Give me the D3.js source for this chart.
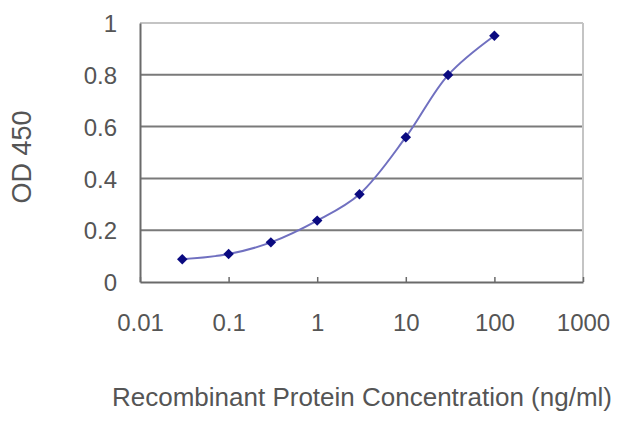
<!DOCTYPE html>
<html lang="en">
<head>
  <meta charset="UTF-8">
  <title>OD 450 vs Recombinant Protein Concentration</title>
  <script src="https://d3js.org/d3.v7.min.js"></script>
  <style>
    html, body { margin: 0; background: #fff; }
    .lbl { font-family: "Liberation Sans", Arial, sans-serif; fill: #555; }
  </style>
</head>
<body>
  <svg width="640" height="427"></svg>
  <script>
    // data
    const conc = [0.03, 0.1, 0.3, 1, 3, 10, 30, 100];
    const od = [0.088, 0.108, 0.153, 0.237, 0.339, 0.559, 0.799, 0.951];
    const xTicks = [0.01, 0.1, 1, 10, 100, 1000];
    const xTickLabels = ["0.01", "0.1", "1", "10", "100", "1000"];
    const yTicks = [0, 0.2, 0.4, 0.6, 0.8, 1];
    const yTickLabels = ["0", "0.2", "0.4", "0.6", "0.8", "1"];

    const plotL = 140, plotR = 583, plotT = 23, plotB = 282;

    const svg = d3.select("svg");

    const x = d3.scaleLog().domain([0.01, 1000]).range([plotL, plotR]);
    const y = d3.scaleLinear().domain([0, 1]).range([plotB, plotT]);

    // gridlines
    svg.append("g")
      .selectAll("line")
      .data(yTicks.slice(1))
      .enter().append("line")
      .attr("x1", plotL).attr("x2", plotR)
      .attr("y1", d => y(d)).attr("y2", d => y(d))
      .attr("stroke", d => d === 1 ? "#c4c4c4" : "#7a7a7a")
      .attr("stroke-width", 2);

    // right border (light)
    svg.append("line")
      .attr("x1", plotR).attr("x2", plotR)
      .attr("y1", plotT).attr("y2", plotB)
      .attr("stroke", "#c4c4c4").attr("stroke-width", 2);

    // x axis, ticks pointing up
    const xAxis = svg.append("g")
      .attr("transform", `translate(0, ${plotB})`)
      .call(d3.axisBottom(x).tickValues(xTicks).tickSizeInner(-5).tickSizeOuter(0).tickFormat((d, i) => xTickLabels[i]));
    xAxis.select(".domain").attr("stroke", "#6a6a6a").attr("stroke-width", 2);
    xAxis.selectAll(".tick line").attr("stroke", "#6a6a6a").attr("stroke-width", 1.5);
    xAxis.selectAll(".tick text")
      .attr("class", "lbl")
      .attr("y", 49)
      .attr("dy", 0)
      .style("font-size", "24px");

    // y axis
    const yAxis = svg.append("g")
      .attr("transform", `translate(${plotL}, 0)`)
      .call(d3.axisLeft(y).tickValues(yTicks).tickSize(0).tickFormat((d, i) => yTickLabels[i]));
    yAxis.select(".domain").attr("stroke", "#6a6a6a").attr("stroke-width", 2);
    yAxis.selectAll(".tick text")
      .attr("class", "lbl")
      .attr("x", -23)
      .attr("dy", "0.36em")
      .style("font-size", "24px");

    // axis titles
    svg.append("text")
      .attr("class", "lbl")
      .attr("x", 362).attr("y", 406)
      .attr("text-anchor", "middle")
      .style("font-size", "26px")
      .text("Recombinant Protein Concentration (ng/ml)");

    svg.append("text")
      .attr("class", "lbl")
      .attr("transform", "translate(31, 157) rotate(-90)")
      .attr("text-anchor", "middle")
      .style("font-size", "27px")
      .text("OD 450");

    // smoothed line
    const pts = conc.map((c, i) => [c, od[i]]);
    const line = d3.line()
      .x(d => x(d[0]))
      .y(d => y(d[1]))
      .curve(d3.curveCatmullRom.alpha(0.5));
    svg.append("path")
      .datum(pts)
      .attr("d", line)
      .attr("fill", "none")
      .attr("stroke", "#7070c0")
      .attr("stroke-width", 2);

    // diamond markers
    svg.append("g")
      .selectAll("path")
      .data(pts)
      .enter().append("path")
      .attr("d", d3.symbol().type(d3.symbolDiamond2).size(70))
      .attr("transform", d => `translate(${x(d[0])}, ${y(d[1])})`)
      .attr("fill", "#0a0a80");
  </script>
</body>
</html>
